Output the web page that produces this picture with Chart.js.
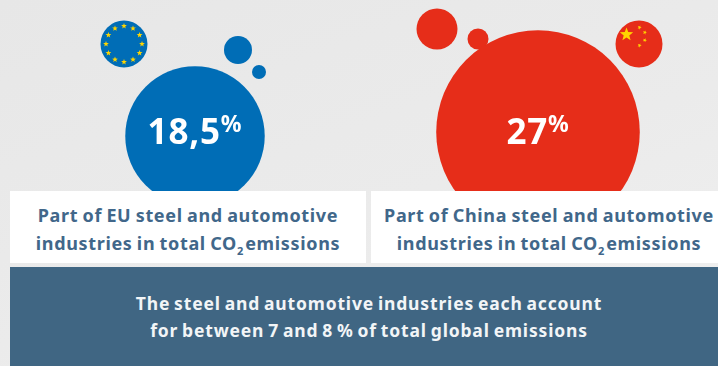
<!DOCTYPE html>
<html>
<head>
<meta charset="utf-8">
<script src="https://cdn.jsdelivr.net/npm/chart.js@4/dist/chart.umd.min.js"></script>
<style>
  html, body { margin: 0; padding: 0; }
  body {
    width: 718px; height: 366px; overflow: hidden; position: relative;
    background: linear-gradient(160deg, #e7e7e7 0%, #ebebeb 55%, #f0f0f0 100%);
    font-family: "Noto Sans", sans-serif; font-weight: 700;
  }
  canvas { position: absolute; left: 0; top: 0; }
  .panel { position: absolute; box-sizing: border-box; text-align: center; white-space: nowrap; }
  .caption { top: 191px; height: 72px; background: #fff; color: #41678a; font-size: 18px; line-height: 28px; padding-top: 10px; letter-spacing: 0.65px; word-spacing: -1px; }
  .caption sub { font-size: 11px; line-height: 0; vertical-align: -5px; letter-spacing: 0; margin-right: 2px; }
  #capEu { left: 10px; width: 356px; }
  #capCn { left: 371px; width: 356px; }
  #note { left: 10px; width: 718px; top: 267px; height: 99px; background: #406683; color: #f2f5f7; font-size: 17.5px; line-height: 27px; padding-top: 23px; letter-spacing: 0.84px; word-spacing: -1.5px; }
</style>
</head>
<body>
<canvas id="chart" width="718" height="366"></canvas>
<div class="panel caption" id="capEu">Part of EU steel and automotive<br>industries in total CO<sub>2</sub>emissions</div>
<div class="panel caption" id="capCn">Part of China steel and automotive<br>industries in total CO<sub>2</sub>emissions</div>
<div class="panel" id="note">The steel and automotive industries each account<br>for between 7 and 8 % of total global emissions</div>
<script>
// Share of each region's steel + automotive industries in total CO2
const regions = ['EU', 'China'];
const shares = [18.5, 27];
const colors = ['#006db6', '#e62d19'];

// bubble radius grows linearly with the share
const RADIUS_PER_POINT = 3.77;

// layout, in page pixels (the axes below run 0..718 and 0..366)
const mainX = [195, 538];
const mainY = [136, 132];
const flagX = [124, 639];
const flagY = [44, 44];
const FLAG_R = 23.5;
const satelliteX = [[238, 259], [437, 478]];
const satelliteY = [[50, 72], [29, 39]];
const satelliteR = [[14, 7], [20.5, 10.5]];

const STAR_YELLOW = '#ffd500';

function starPath(ctx, cx, cy, r, rot) {
  ctx.beginPath();
  for (let i = 0; i < 10; i++) {
    const a = rot - Math.PI / 2 + i * Math.PI / 5;
    const d = i % 2 ? r * 0.42 : r;
    ctx.lineTo(cx + Math.cos(a) * d, cy + Math.sin(a) * d);
  }
  ctx.closePath();
  ctx.fill();
}

// Stars on the two flag discs
const flagStars = {
  id: 'flagStars',
  afterDatasetsDraw(chart) {
    const { ctx, scales: { x, y } } = chart;
    ctx.save();
    ctx.fillStyle = STAR_YELLOW;

    // EU: ring of twelve
    const ex = x.getPixelForValue(flagX[0]);
    const ey = y.getPixelForValue(flagY[0]);
    for (let i = 0; i < 12; i++) {
      const a = i * Math.PI / 6;
      starPath(ctx, ex + Math.sin(a) * 18, ey - Math.cos(a) * 18, 3, 0);
    }

    // China: one large, four small
    const cx = x.getPixelForValue(flagX[1]);
    const cy = y.getPixelForValue(flagY[1]);
    starPath(ctx, cx - 12.5, cy - 9.5, 7, 0);
    [[0.5, -16.5], [5.8, -11.5], [5.8, -3.8], [0.5, 1.5]].forEach(([dx, dy]) => {
      starPath(ctx, cx + dx, cy + dy, 2.2, 0.4);
    });
    ctx.restore();
  }
};

// White value labels inside the main bubbles
const valueLabels = {
  id: 'valueLabels',
  afterDatasetsDraw(chart) {
    const { ctx } = chart;
    const meta = chart.getDatasetMeta(0);
    ctx.save();
    ctx.fillStyle = '#fff';
    ctx.textBaseline = 'alphabetic';
    shares.forEach((share, i) => {
      const pt = meta.data[i];
      const num = String(share).replace('.', ',');
      ctx.letterSpacing = '0.8px';
      ctx.font = '700 35px "Noto Sans"';
      const numW = ctx.measureText(num).width;
      ctx.font = '700 23px "Noto Sans"';
      const pctW = ctx.measureText('%').width;
      const left = pt.x - (numW + pctW) / 2;
      const base = 144;
      ctx.font = '700 35px "Noto Sans"';
      ctx.fillText(num, left, base);
      ctx.font = '700 23px "Noto Sans"';
      ctx.fillText('%', left + numW, base - 12);
    });
    ctx.restore();
  }
};

const mainPoints = regions.map((name, i) => ({
  x: mainX[i], y: mainY[i], r: shares[i] * RADIUS_PER_POINT
}));
const flagPoints = regions.map((name, i) => ({ x: flagX[i], y: flagY[i], r: FLAG_R }));
const satellitePoints = regions.flatMap((name, i) =>
  satelliteX[i].map((sx, j) => ({ x: sx, y: satelliteY[i][j], r: satelliteR[i][j] }))
);

new Chart(document.getElementById('chart'), {
  type: 'bubble',
  data: {
    datasets: [
      { label: 'Share', data: mainPoints, backgroundColor: colors, borderWidth: 0, clip: false },
      { label: 'Flags', data: flagPoints, backgroundColor: colors, borderWidth: 0, clip: false },
      {
        label: 'Satellites',
        data: satellitePoints,
        backgroundColor: [colors[0], colors[0], colors[1], colors[1]],
        borderWidth: 0,
        clip: false
      }
    ]
  },
  options: {
    responsive: false,
    animation: false,
    events: [],
    // the bubbles would otherwise push the plot area inwards
    layout: { padding: 0, autoPadding: false },
    plugins: { legend: { display: false }, tooltip: { enabled: false } },
    scales: {
      x: { type: 'linear', display: false, min: 0, max: 718 },
      y: { type: 'linear', display: false, min: 0, max: 366, reverse: true }
    }
  },
  plugins: [flagStars, valueLabels]
});
</script>
</body>
</html>
